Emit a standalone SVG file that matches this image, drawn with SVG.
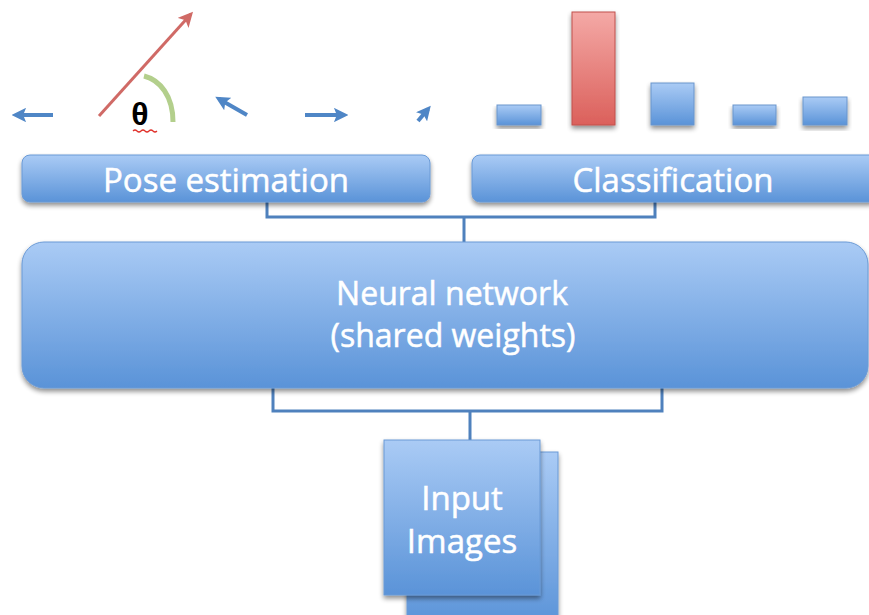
<svg xmlns="http://www.w3.org/2000/svg" width="869" height="615" viewBox="0 0 869 615">
<defs>
<linearGradient id="gBlue" x1="0" y1="0" x2="0" y2="1">
<stop offset="0" stop-color="#aacbf5"/>
<stop offset="1" stop-color="#5a93d8"/>
</linearGradient>
<linearGradient id="gRed" x1="0" y1="0" x2="0" y2="1">
<stop offset="0" stop-color="#f4a9a6"/>
<stop offset="1" stop-color="#db605b"/>
</linearGradient>
<filter id="sh" x="-10%" y="-10%" width="120%" height="130%">
<feGaussianBlur in="SourceAlpha" stdDeviation="2.5"/>
<feOffset dx="0" dy="3" result="b"/>
<feComponentTransfer><feFuncA type="linear" slope="0.45"/></feComponentTransfer>
<feMerge><feMergeNode/><feMergeNode in="SourceGraphic"/></feMerge>
</filter>
<marker id="ahB" viewBox="0 0 10 10" refX="7" refY="5" markerWidth="3.6" markerHeight="3.6" orient="auto">
<path d="M0 0 L10 5 L0 10 L2 5 z" fill="#4f86c6"/>
</marker>
<marker id="ahR" viewBox="0 0 10 10" refX="8" refY="5" markerWidth="5" markerHeight="5" orient="auto">
<path d="M0 0 L10 5 L0 10 L2.5 5 z" fill="#d06a66"/>
</marker>
</defs>
<style>
.box{fill:url(#gBlue);stroke:#6a9ad6;stroke-width:1;filter:url(#sh)}
.bar{fill:url(#gBlue);stroke:#6a95cc;stroke-width:1;filter:url(#sh)}
.lbl{font-family:"Open Sans","Liberation Sans",sans-serif;font-size:33px;fill:#ffffff;text-anchor:middle;stroke:#ffffff;stroke-width:0.5}
.conn{fill:none;stroke:#4f81bd;stroke-width:3}
.dir{stroke:#4f86c6;stroke-width:4;fill:none;marker-end:url(#ahB)}
</style>

<g id="pose-arrows">
<line class="dir" x1="53" y1="115" x2="16" y2="115"/>
<line class="dir" x1="247" y1="115" x2="219" y2="99"/>
<line class="dir" x1="305" y1="115" x2="344" y2="115"/>
<line class="dir" x1="418" y1="121" x2="428" y2="109"/>
<line x1="99" y1="116" x2="191" y2="14" stroke="#d06a66" stroke-width="3" marker-end="url(#ahR)"/>
<path d="M144 76 C160 80 173 96 173 122" fill="none" stroke="#b3cf8c" stroke-width="5"/>
<text x="140" y="125" font-family="'Liberation Sans',sans-serif" font-size="32" font-weight="bold" fill="#000" text-anchor="middle">θ</text>
<path d="M133 131 q2 -2 4 0 t4 0 t4 0 t4 0 t4 0 t4 0" fill="none" stroke="#e0302a" stroke-width="1.2"/>
</g>

<g id="class-bars">
<rect class="bar" x="497" y="105" width="44" height="20"/>
<rect x="572" y="12" width="43" height="113" fill="url(#gRed)" stroke="#c0504d" stroke-width="1" filter="url(#sh)"/>
<rect class="bar" x="651" y="83" width="43" height="42"/>
<rect class="bar" x="733" y="105" width="43" height="20"/>
<rect class="bar" x="803" y="97" width="44" height="28"/>
</g>

<g id="connectors">
<path class="conn" d="M267 202 V217 H655 V202 M464 217 V243"/>
<path class="conn" d="M273 388 V411 H662 V388 M470 411 V441"/>
</g>

<g id="pose-estimation">
<rect class="box" x="22" y="155" width="408" height="47" rx="8"/>
<text class="lbl" x="226" y="192">Pose estimation</text>
</g>

<g id="classification">
<rect class="box" x="472" y="155" width="406" height="47" rx="8"/>
<text class="lbl" x="673" y="192">Classification</text>
</g>

<g id="neural-network">
<rect class="box" x="22" y="242" width="846" height="146" rx="22"/>
<text class="lbl" style="font-size:32px"><tspan x="452" y="305">Neural network</tspan><tspan x="453" y="347">(shared weights)</tspan></text>
</g>

<g id="input-images">
<rect class="box" x="407" y="452" width="151" height="175"/>
<rect class="box" x="384" y="440" width="156" height="155"/>
<text class="lbl"><tspan x="462" y="510">Input</tspan><tspan x="462" y="553">Images</tspan></text>
</g>
</svg>
